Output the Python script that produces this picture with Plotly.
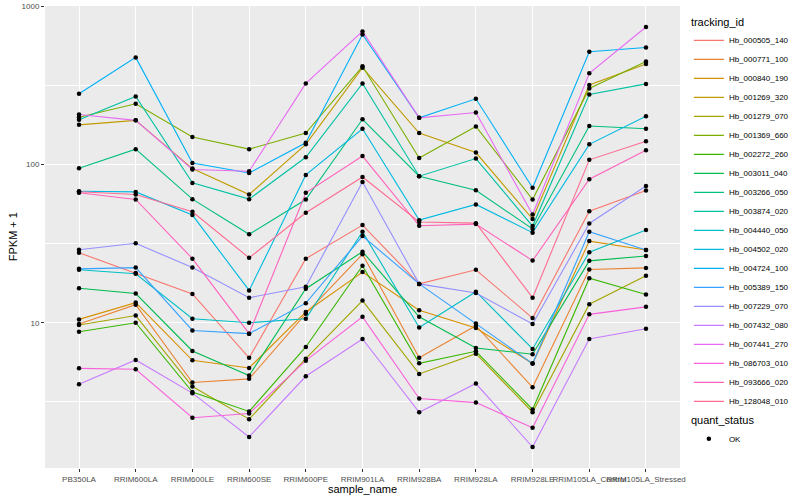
import math
import plotly.graph_objects as go

samples = ["PB350LA", "RRIM600LA", "RRIM600LE", "RRIM600SE", "RRIM600PE", "RRIM901LA",
           "RRIM928BA", "RRIM928LA", "RRIM928LE", "RRIM105LA_Control", "RRIM105LA_Stressed"]

hb_000505_140 = [27.7, 20.6, 15.2, 6.0, 25.4, 41.4, 17.6, 21.6, 10.7, 50.7, 68.5]
hb_000771_100 = [9.81, 13.0, 4.19, 4.42, 11.4, 27.1, 6.0, 9.58, 3.91, 21.7, 22.2]
hb_000840_190 = [10.5, 13.4, 5.79, 5.18, 11.7, 20.9, 12.0, 9.26, 5.52, 32.8, 28.8]
hb_001269_320 = [178, 190, 94.2, 64.6, 134, 409, 158, 119, 45.2, 318, 431]
hb_001279_070 = [9.67, 11.1, 3.95, 2.46, 5.93, 13.8, 4.75, 6.38, 2.72, 13.1, 19.8]
hb_001369_660 = [199, 242, 149, 125, 158, 417, 110, 174, 60, 302, 447]
hb_002272_260 = [8.78, 10.0, 3.65, 2.75, 7.03, 22.9, 5.54, 6.60, 2.83, 19.1, 15.1]
hb_003011_040 = [16.5, 15.3, 6.63, 4.64, 16.4, 28.1, 10.9, 6.93, 6.32, 24.6, 26.4]
hb_003266_050 = [94.6, 125, 60.4, 36.2, 60.1, 193, 84.3, 68.8, 39.1, 175, 168]
hb_003874_020 = [192, 269, 76.5, 60.4, 111, 325, 84.3, 109, 40.8, 277, 323]
hb_004440_050 = [21.6, 20.4, 10.6, 10.0, 10.6, 37.6, 9.34, 15.7, 6.83, 27.9, 38.5]
hb_004502_020 = [67.8, 67.1, 47.9, 16.0, 85.9, 168, 44.5, 55.9, 37.1, 134, 202]
hb_004724_100 = [280, 475, 102, 88.4, 137, 663, 197, 260, 71.3, 516, 549]
hb_005389_150 = [21.9, 22.3, 8.94, 8.53, 13.3, 35.3, 17.6, 9.90, 5.52, 37.6, 28.8]
hb_007229_070 = [28.9, 31.8, 22.3, 14.4, 16.9, 77.6, 17.6, 15.4, 9.81, 42.4, 73.2]
hb_007432_080 = [4.09, 5.82, 3.59, 1.90, 4.59, 7.90, 2.72, 4.13, 1.64, 7.90, 9.17]
hb_007441_270 = [207, 190, 92.9, 90.6, 325, 693, 197, 213, 48.3, 377, 739]
hb_086703_010 = [5.15, 5.08, 2.51, 2.67, 5.76, 10.9, 3.32, 3.13, 2.17, 11.3, 12.6]
hb_093666_020 = [66.3, 60.1, 25.4, 8.53, 66.2, 113, 41.0, 42.0, 24.7, 80.7, 123]
hb_128048_010 = [67.3, 64.6, 50.2, 25.7, 49.5, 83.4, 43.3, 42.6, 14.4, 107, 140]

tracking_ids = ["Hb_000505_140", "Hb_000771_100", "Hb_000840_190", "Hb_001269_320",
                "Hb_001279_070", "Hb_001369_660", "Hb_002272_260", "Hb_003011_040",
                "Hb_003266_050", "Hb_003874_020", "Hb_004440_050", "Hb_004502_020",
                "Hb_004724_100", "Hb_005389_150", "Hb_007229_070", "Hb_007432_080",
                "Hb_007441_270", "Hb_086703_010", "Hb_093666_020", "Hb_128048_010"]
series = [hb_000505_140, hb_000771_100, hb_000840_190, hb_001269_320, hb_001279_070,
          hb_001369_660, hb_002272_260, hb_003011_040, hb_003266_050, hb_003874_020,
          hb_004440_050, hb_004502_020, hb_004724_100, hb_005389_150, hb_007229_070,
          hb_007432_080, hb_007441_270, hb_086703_010, hb_093666_020, hb_128048_010]

colors = ["#F8766D", "#EA8331", "#D89000", "#C09B00", "#A3A500", "#7CAE00", "#39B600",
          "#00BB4E", "#00BF7D", "#00C1A3", "#00BFC4", "#00BAE0", "#00B0F6", "#35A2FF",
          "#9590FF", "#C77CFF", "#E76BF3", "#FA62DB", "#FF62BC", "#FF6C91"]

FONT = "Liberation Sans, Arial, sans-serif"

fig = go.Figure()
for name, vals, col in zip(tracking_ids, series, colors):
    fig.add_trace(go.Scatter(x=samples, y=vals, mode="lines", name=name,
                             line=dict(color=col, width=1.1), legend="legend"))

all_x = [s for vals in series for s in samples]
all_y = [v for vals in series for v in vals]
fig.add_trace(go.Scatter(x=all_x, y=all_y, mode="markers", name="OK",
                         marker=dict(color="black", size=4.5), legend="legend2"))

lo = math.log10(min(all_y))
hi = math.log10(max(all_y))
pad = (hi - lo) * 0.05

fig.update_layout(
    width=800, height=500,
    margin=dict(l=45, r=116, t=6, b=32),
    paper_bgcolor="white", plot_bgcolor="#EBEBEB",
    font=dict(family=FONT, color="black"),
    showlegend=True,
    legend=dict(x=1.014, xanchor="left", y=0.988, yanchor="top",
                title=dict(text="tracking_id", font=dict(size=11)),
                font=dict(size=8), bgcolor="rgba(0,0,0,0)", itemwidth=30,
                tracegroupgap=0),
    legend2=dict(x=1.014, xanchor="left", y=0.1255, yanchor="top",
                 title=dict(text="quant_status", font=dict(size=11)),
                 font=dict(size=8), bgcolor="rgba(0,0,0,0)", itemwidth=30),
    xaxis=dict(type="category", categoryorder="array", categoryarray=samples,
               range=[-0.6, len(samples) - 0.4], automargin=False, tickangle=0,
               showgrid=True, gridcolor="white", gridwidth=1.2, zeroline=False,
               ticks="outside", ticklen=3, tickcolor="#333333",
               tickfont=dict(size=8, color="#4D4D4D")),
    yaxis=dict(type="log", range=[lo - pad, hi + pad], automargin=False,
               tickvals=[10, 100, 1000], ticktext=["10", "100", "1000"],
               showgrid=True, gridcolor="white", gridwidth=1.2, zeroline=False,
               ticks="outside", ticklen=3, tickcolor="#333333",
               tickfont=dict(size=8, color="#4D4D4D"),
               minor=dict(tickvals=[10 ** 0.5, 10 ** 1.5, 10 ** 2.5], showgrid=True,
                          gridcolor="white", gridwidth=0.6, ticks="")),
    annotations=[
        dict(text="sample_name", xref="paper", yref="paper", x=0.5, y=-0.046,
             xanchor="center", yanchor="middle", showarrow=False,
             font=dict(size=11, color="black")),
        dict(text="FPKM + 1", xref="paper", yref="paper", x=-0.05, y=0.5,
             xanchor="center", yanchor="middle", showarrow=False, textangle=-90,
             font=dict(size=11, color="black")),
    ],
)

fig.write_html("out.html", config={"displayModeBar": False},
               post_script="document.body.style.margin='0';")
